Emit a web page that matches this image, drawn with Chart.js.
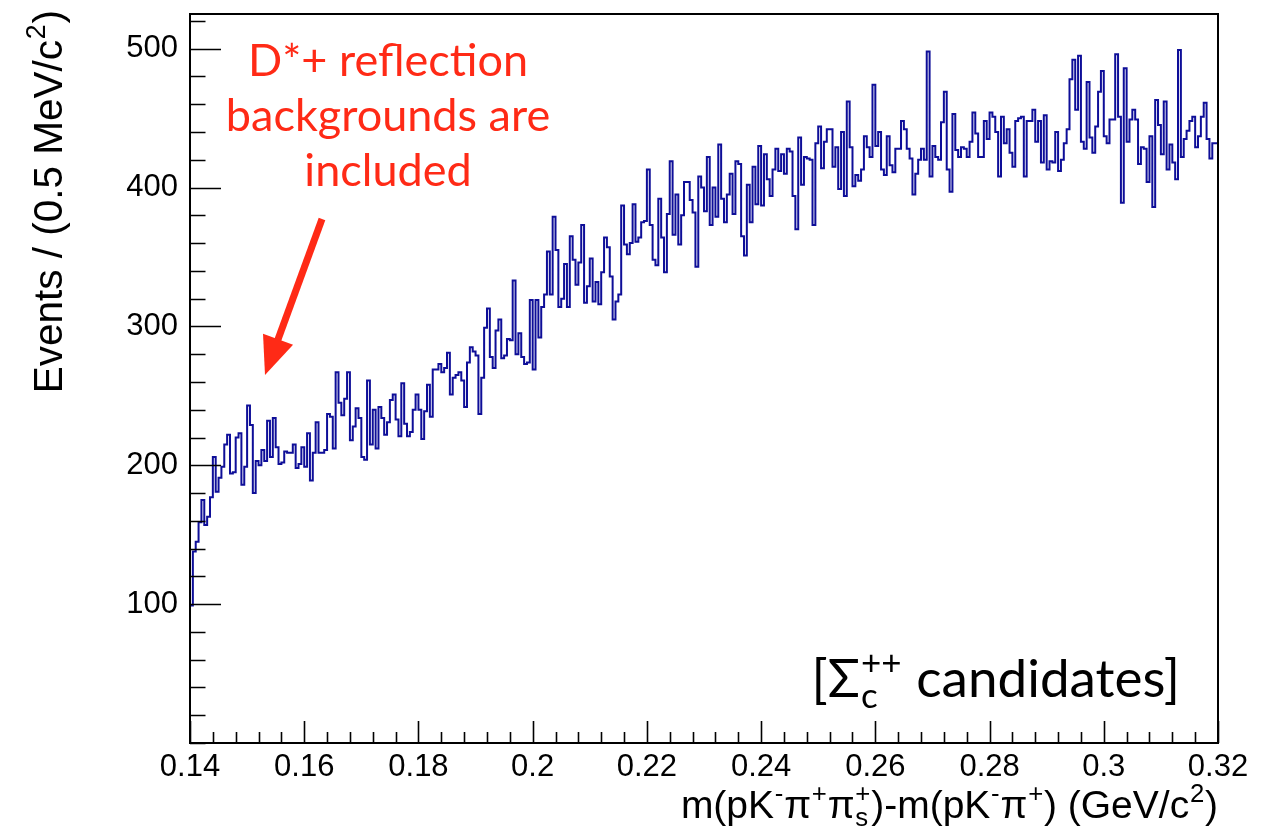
<!DOCTYPE html>
<html>
<head>
<meta charset="utf-8">
<script src="https://cdn.jsdelivr.net/npm/chart.js@4/dist/chart.umd.min.js"></script>
<style>
  html, body { margin: 0; padding: 0; background: #fff; }
  #wrap { width: 1277px; height: 833px; }
</style>
</head>
<body>
<div id="wrap"><canvas id="myChart" width="1277" height="833"></canvas></div>
<script>
// binning of the mass-difference histogram (GeV/c^2)
const binLow = 0.14;
const binHigh = 0.32;
const binWidth = 0.0005;

// events per 0.5 MeV/c^2 bin, 360 bins from 0.14 to 0.32
const counts = [
  69, 99, 138, 145, 159, 175, 157, 163, 177, 206,
  181, 191, 199, 215, 222, 194, 195, 220, 223, 186,
  199, 243, 229, 180, 203, 200, 211, 203, 232, 206,
  234, 213, 201, 202, 210, 209, 209, 215, 198, 201,
  213, 199, 223, 189, 209, 231, 209, 209, 211, 237,
  235, 212, 267, 245, 236, 248, 267, 218, 228, 241,
  234, 206, 204, 261, 215, 240, 212, 242, 234, 222,
  231, 247, 251, 233, 221, 259, 230, 221, 224, 240,
  251, 240, 219, 239, 258, 235, 269, 269, 273, 267,
  270, 281, 251, 263, 265, 267, 261, 242, 274, 285,
  282, 279, 237, 263, 299, 313, 278, 270, 297, 305,
  277, 279, 291, 290, 333, 280, 295, 278, 273, 274,
  319, 269, 319, 292, 314, 323, 354, 323, 379, 355,
  314, 320, 345, 314, 365, 348, 330, 346, 373, 317,
  329, 349, 318, 332, 316, 339, 364, 357, 336, 305,
  318, 323, 387, 359, 352, 360, 388, 361, 364, 375,
  376, 413, 373, 348, 344, 392, 364, 339, 381, 419,
  366, 395, 359, 380, 404, 404, 391, 382, 343, 408,
  400, 383, 422, 373, 400, 379, 431, 392, 375, 395,
  410, 381, 419, 417, 365, 351, 402, 375, 415, 388,
  430, 387, 424, 406, 394, 413, 428, 412, 424, 410,
  428, 426, 394, 370, 436, 402, 422, 421, 420, 373,
  432, 444, 414, 433, 442, 442, 415, 429, 399, 440,
  394, 462, 429, 401, 409, 405, 413, 437, 429, 422,
  474, 430, 440, 413, 409, 437, 416, 411, 428, 428,
  448, 442, 428, 421, 395, 410, 420, 428, 420, 498,
  408, 430, 422, 420, 447, 469, 413, 397, 453, 427,
  422, 429, 428, 422, 433, 454, 439, 422, 422, 448,
  435, 454, 451, 440, 408, 451, 432, 442, 425, 415,
  448, 450, 451, 408, 448, 448, 456, 433, 448, 418,
  452, 413, 419, 418, 440, 412, 420, 432, 442, 478,
  492, 456, 495, 433, 428, 476, 436, 425, 444, 469,
  484, 437, 432, 449, 449, 496, 451, 389, 486, 433,
  449, 456, 449, 417, 429, 428, 404, 437, 386, 463,
  445, 424, 462, 413, 431, 418, 406, 499, 422, 435,
  441, 448, 451, 429, 437, 451, 461, 435, 421, 432
];

// axis ticks
const xTicks = [0.14, 0.16, 0.18, 0.2, 0.22, 0.24, 0.26, 0.28, 0.3, 0.32];
const yTicks = [100, 200, 300, 400, 500];
const xMinorStep = 0.004;
const yMinorStep = 20;

// text on the plot
const noteLines = ['D*+ reflection', 'backgrounds are', 'included'];
const yTitle = [{ t: 'Events / (0.5 MeV/c' }, { sup: '2' }, { t: ')' }];
const xTitle = [
  { t: 'm(pK' }, { sup: '-' }, { t: 'π' }, { sup: '+' }, { t: 'π' }, { sup: '+', sub: 's' },
  { t: ')-m(pK' }, { sup: '-' }, { t: 'π' }, { sup: '+' }, { t: ') (GeV/c' }, { sup: '2' }, { t: ')' }
];
const sampleLabel = [{ t: '[Σ' }, { sub: 'c', sup: '++' }, { t: ' candidates]' }];

const axisFont = '"Liberation Sans", Arial, Helvetica, sans-serif';
const noteFont = 'Lato, "Open Sans", sans-serif';
const noteRed = 'rgb(255, 42, 22)';

// histogram drawn as steps: one point per bin low edge, plus the upper edge
const points = counts.map((c, i) => ({ x: binLow + i * binWidth, y: c }));
points.push({ x: binHigh, y: counts[counts.length - 1] });

// draws text with super/subscripts, returns width
function richText(ctx, parts, x, y, size, family, align) {
  const small = size * 0.66;
  let w = 0;
  const widths = parts.map(p => {
    if (p.t !== undefined) {
      ctx.font = size + 'px ' + family;
      return ctx.measureText(p.t).width;
    }
    ctx.font = small + 'px ' + family;
    const a = p.sup ? ctx.measureText(p.sup).width : 0;
    const b = p.sub ? ctx.measureText(p.sub).width : 0;
    return Math.max(a, b) + size * 0.04;
  });
  widths.forEach(v => { w += v; });
  let cx = align === 'right' ? x - w : align === 'center' ? x - w / 2 : x;
  parts.forEach((p, i) => {
    if (p.t !== undefined) {
      ctx.font = size + 'px ' + family;
      ctx.fillText(p.t, cx, y);
    } else {
      ctx.font = small + 'px ' + family;
      if (p.sup) ctx.fillText(p.sup, cx + size * 0.02, y - size * 0.42);
      if (p.sub) ctx.fillText(p.sub, cx + size * 0.02, y + size * 0.2);
    }
    cx += widths[i];
  });
  return w;
}

const rootFrame = {
  id: 'rootFrame',
  afterDraw(chart) {
    const ctx = chart.ctx;
    const a = chart.chartArea;
    const xs = chart.scales.x;
    const ys = chart.scales.y;
    ctx.save();

    // frame
    ctx.strokeStyle = '#000';
    ctx.lineWidth = 2;
    ctx.strokeRect(a.left, a.top, a.right - a.left, a.bottom - a.top);

    // inward ticks
    const xMajorLen = 22, yMajorLen = 31;
    ctx.lineWidth = 1.6;
    ctx.beginPath();
    for (let k = 0; ; k++) {
      const v = binLow + k * xMinorStep;
      if (v > binHigh + 1e-9) break;
      const px = Math.round(xs.getPixelForValue(v)) + 0.5;
      const major = xTicks.some(t => Math.abs(t - v) < 1e-9);
      const len = major ? xMajorLen : xMajorLen / 2;
      ctx.moveTo(px, a.bottom);
      ctx.lineTo(px, a.bottom - len);
    }
    for (let v = 0; v <= ys.max; v += yMinorStep) {
      const py = Math.round(ys.getPixelForValue(v)) + 0.5;
      const len = yTicks.includes(v) ? yMajorLen : yMajorLen / 2;
      ctx.moveTo(a.left, py);
      ctx.lineTo(a.left + len, py);
    }
    ctx.stroke();

    // axis titles
    ctx.fillStyle = '#000';
    ctx.textBaseline = 'alphabetic';
    ctx.textAlign = 'left';
    richText(ctx, xTitle, a.right, 818, 39, axisFont, 'right');
    ctx.save();
    ctx.translate(62, 10);
    ctx.rotate(-Math.PI / 2);
    richText(ctx, yTitle, 0, 0, 40.5, axisFont, 'right');
    ctx.restore();

    // sample label
    richText(ctx, sampleLabel, 1180, 697, 53, noteFont, 'right');

    // red note with arrow
    ctx.fillStyle = noteRed;
    noteLines.forEach((line, i) => {
      richText(ctx, [{ t: line }], 388, 76 + i * 55, 45, noteFont, 'center');
    });
    const tail = { x: 322, y: 219 }, tip = { x: 265, y: 375 };
    const dx = tip.x - tail.x, dy = tip.y - tail.y;
    const len = Math.hypot(dx, dy);
    const ux = dx / len, uy = dy / len;
    const headLen = 38, headHalf = 16;
    const bx = tip.x - ux * headLen, by = tip.y - uy * headLen;
    ctx.strokeStyle = noteRed;
    ctx.lineWidth = 7;
    ctx.beginPath();
    ctx.moveTo(tail.x, tail.y);
    ctx.lineTo(bx + ux * 2, by + uy * 2);
    ctx.stroke();
    ctx.beginPath();
    ctx.moveTo(tip.x, tip.y);
    ctx.lineTo(bx - uy * headHalf, by + ux * headHalf);
    ctx.lineTo(bx + uy * headHalf, by - ux * headHalf);
    ctx.closePath();
    ctx.fill();

    ctx.restore();
  }
};

const config = {
  type: 'line',
  data: {
    datasets: [{
      data: points,
      stepped: 'after',
      borderColor: '#0e0e98',
      borderWidth: 2,
      pointRadius: 0,
      fill: false
    }]
  },
  options: {
    responsive: false,
    animation: false,
    devicePixelRatio: 1,
    layout: { padding: { top: 14, right: 59, left: 0, bottom: 0 } },
    plugins: { legend: { display: false }, tooltip: { enabled: false } },
    scales: {
      x: {
        type: 'linear',
        min: binLow,
        max: binHigh,
        afterBuildTicks: scale => { scale.ticks = xTicks.map(v => ({ value: v })); },
        afterFit: scale => {
          scale.height = 90;
          scale.paddingLeft = 0;
          scale.paddingRight = 0;
        },
        grid: { display: false, drawTicks: false },
        border: { display: false },
        ticks: {
          color: '#000',
          font: { family: axisFont, size: 31 },
          padding: 6,
          maxRotation: 0,
          autoSkip: false,
          callback: v => String(parseFloat(v.toFixed(2)))
        }
      },
      y: {
        type: 'linear',
        min: 0,
        max: 525,
        afterBuildTicks: scale => { scale.ticks = yTicks.map(v => ({ value: v })); },
        afterFit: scale => {
          scale.width = 190;
          scale.paddingTop = 0;
          scale.paddingBottom = 0;
        },
        grid: { display: false, drawTicks: false },
        border: { display: false },
        ticks: {
          color: '#000',
          font: { family: axisFont, size: 31 },
          padding: 12
        }
      }
    }
  },
  plugins: [rootFrame]
};

const myChart = new Chart(document.getElementById('myChart'), config);
</script>
</body>
</html>
